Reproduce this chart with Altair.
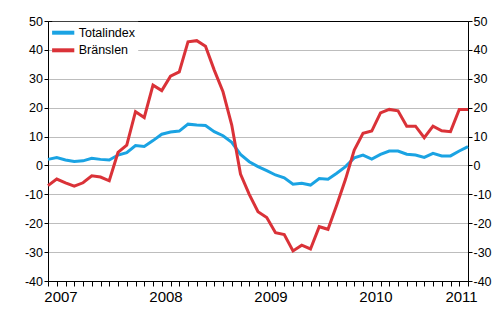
import altair as alt
import pandas as pd

# Month index 0 = Jan 2007 ... 48 = Jan 2011
months = list(range(49))
year_labels = ["2007", "2008", "2009", "2010", "2011"]
series_names = ["Totalindex", "Bränslen"]
y_ticks = [-40, -30, -20, -10, 0, 10, 20, 30, 40, 50]

totalindex = [2.1, 2.7, 1.9, 1.4, 1.6, 2.5, 2.1, 1.9, 3.6, 4.4,
              6.9, 6.6, 8.6, 10.8, 11.6, 11.9, 14.3, 14.0, 13.8, 11.7,
              10.3, 8.0, 3.8, 1.3, -0.4, -1.8, -3.3, -4.3, -6.5, -6.2,
              -6.8, -4.5, -4.8, -2.7, -0.4, 2.6, 3.6, 2.2, 3.8, 5.0,
              5.0, 3.9, 3.6, 2.8, 4.2, 3.3, 3.3, 5.0, 6.5]

branslen = [-7.0, -4.7, -6.0, -7.2, -6.0, -3.6, -4.0, -5.3, 4.5, 7.0,
            18.6, 16.6, 27.8, 25.9, 30.9, 32.4, 42.8, 43.2, 41.3, 33.0,
            25.5, 14.0, -3.0, -10.0, -16.0, -18.0, -23.3, -23.9, -29.6, -27.6,
            -28.9, -21.2, -22.1, -13.7, -4.8, 5.3, 11.1, 11.9, 18.2, 19.4,
            18.9, 13.6, 13.6, 9.6, 13.6, 12.0, 11.7, 19.4, 19.4]

df = pd.DataFrame({
    "month": months + months,
    "value": totalindex + branslen,
    "series": [series_names[0]] * len(months) + [series_names[1]] * len(months),
})

FONT = "Liberation Sans"
year_arr = "[" + ",".join("'" + y + "'" for y in year_labels) + "]"

x_enc = alt.X(
    "month:Q",
    scale=alt.Scale(domain=[0, 48], nice=False, zero=False),
    axis=alt.Axis(
        title=None,
        values=months,
        grid=False,
        labelExpr=f"datum.value % 12 == 0 ? {year_arr}[datum.value / 12] : ''",
        labelOverlap=False,
        labelBound=False,
        labelFlush=False,
        labelFontSize=15,
        labelPadding=3,
        labelOffset={"condition": {"test": "datum.value == 48", "value": -7}, "value": 12.5},
        tickSize=5,
        tickColor="black",
        domainColor="black",
    ),
)

y_scale = alt.Scale(domain=[-40, 50], nice=False, zero=False)

color_enc = alt.Color(
    "series:N",
    scale=alt.Scale(domain=series_names, range=["#1AA3E3", "#DA3238"]),
    legend=alt.Legend(
        title=None,
        orient="none",
        legendX=4.2,
        legendY=0.7,
        symbolType="M-1.85,0H1.85",
        symbolSize=144,
        symbolStrokeWidth=4,
        fillColor="white",
        padding=3,
        rowPadding=1.6,
        labelOffset=7.5,
        labelFontSize=12.5,
        labelFont=FONT,
        labelColor="black",
    ),
)

left = alt.Chart(df).mark_line(strokeWidth=3).encode(
    x=x_enc,
    y=alt.Y(
        "value:Q",
        scale=y_scale,
        axis=alt.Axis(
            title=None,
            orient="left",
            values=y_ticks,
            labelExpr="toString(datum.value)",
            grid=True,
            gridColor="#BDBDBD",
            gridOpacity={"condition": {"test": "datum.value == -40 || datum.value == 50", "value": 0}, "value": 1},
            tickSize=4,
            labelPadding=1.5,
            labelFontSize=12.5,
        ),
    ),
    color=color_enc,
)

right = alt.Chart(df).mark_line(strokeWidth=3, opacity=0).encode(
    x=x_enc,
    y=alt.Y(
        "value:Q",
        scale=y_scale,
        axis=alt.Axis(
            title=None,
            orient="right",
            values=y_ticks,
            labelExpr="toString(datum.value)",
            grid=False,
            tickSize=4,
            labelPadding=1,
            labelFontSize=12.5,
        ),
    ),
    detail="series:N",
)

chart = (
    alt.layer(left, right)
    .resolve_scale(y="shared")
    .resolve_axis(y="independent")
    .properties(
        width=420,
        height=260,
        autosize="none",
        padding={"left": 48, "top": 21, "right": 32, "bottom": 49},
        background="white",
    )
    .configure_view(stroke="black", strokeWidth=1)
    .configure_axis(
        labelFont=FONT,
        labelColor="black",
        tickColor="black",
        domainColor="black",
        tickWidth=1,
        domainWidth=1,
    )
)

chart.save("out.html", embed_options={"renderer": "svg", "actions": False})
